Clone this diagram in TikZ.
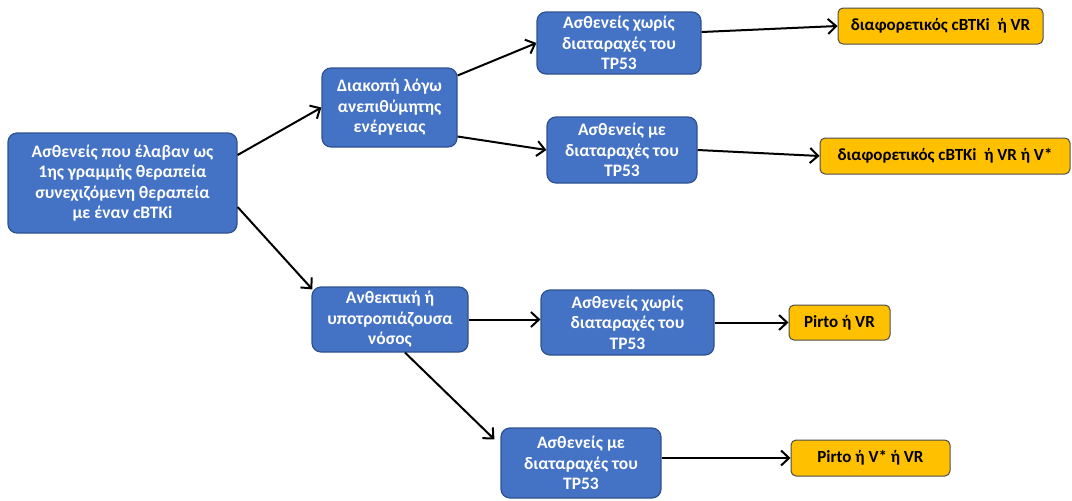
\documentclass[tikz,border=0pt]{standalone}
\usepackage{fontspec}
\setmainfont{Carlito}
\usetikzlibrary{arrows.meta}
\definecolor{boxblue}{HTML}{4472C4}
\definecolor{boxedge}{HTML}{2F528F}
\definecolor{resyellow}{HTML}{FFC000}
\tikzset{
 bluebox/.style={draw=boxedge,line width=1.2pt,fill=boxblue,rounded corners=9pt,
  text=white,font=\bfseries\fontsize{17.5}{20.5}\selectfont,align=center,inner sep=2pt},
 yellowbox/.style={draw=black!70,line width=1pt,fill=resyellow,rounded corners=5pt,
  font=\bfseries\fontsize{17}{19}\selectfont,inner sep=2pt},
 link/.style={->,line width=2pt}
}
\begin{document}
\begin{tikzpicture}[x=1pt,y=-1pt,>={Straight Barb[length=8pt,width=15pt]}]
 \useasboundingbox (0,0) rectangle (1072,501);
 % first line of treatment
 \node[bluebox,minimum width=229pt,minimum height=100pt] (root) at (122.5,183)
  {Ασθενείς που έλαβαν ως\\1ης γραμμής θεραπεία\\συνεχιζόμενη θεραπεία\\με έναν cBTKi};
 % upper branch
 \node[bluebox,minimum width=135pt,minimum height=79pt] (stop) at (389.5,107.5)
  {Διακοπή λόγω\\ανεπιθύμητης\\ενέργειας};
 \node[bluebox,minimum width=164pt,minimum height=62pt] (stopno) at (619,43)
  {Ασθενείς χωρίς\\διαταραχές του\\TP53};
 \node[bluebox,minimum width=150pt,minimum height=66pt] (stopyes) at (622,150)
  {Ασθενείς με\\διαταραχές του\\TP53};
 \node[yellowbox,minimum width=205pt,minimum height=36pt] (resA) at (940.5,26)
  {διαφορετικός cBTKi\ \ ή VR};
 \node[yellowbox,minimum width=250pt,minimum height=36pt] (resB) at (945,156)
  {διαφορετικός cBTKi\ \ ή VR ή V*};
 % lower branch
 \node[bluebox,minimum width=156pt,minimum height=65pt] (relapse) at (390,319.5)
  {Ανθεκτική ή\\υποτροπιάζουσα\\νόσος};
 \node[bluebox,minimum width=173pt,minimum height=65pt] (relno) at (627.5,322.5)
  {Ασθενείς χωρίς\\διαταραχές του\\TP53};
 \node[bluebox,minimum width=160pt,minimum height=70pt] (relyes) at (581,463)
  {Ασθενείς με\\διαταραχές του\\TP53};
 \node[yellowbox,minimum width=101pt,minimum height=35pt] (resC) at (839.5,322.5)
  {Pirto ή VR};
 \node[yellowbox,minimum width=159pt,minimum height=36pt] (resD) at (870.5,458)
  {Pirto ή V* ή VR};
 % connectors
 \draw[link] ([yshift=28pt]root.east) -- (stop.west);
 \draw[link] ([yshift=-24pt]root.east) -- ([xshift=1pt,yshift=-3pt]relapse.north west);
 \draw[link] ([yshift=32pt]stop.east) -- (stopno.west);
 \draw[link] ([yshift=-29pt]stop.east) -- (stopyes.west);
 \draw[link] ([yshift=11pt]stopno.east) -- (resA.west);
 \draw[link] (stopyes.east) -- (resB.west);
 \draw[link] (relapse.east) -- (relapse.east -| relno.west);
 \draw[link] ([xshift=15pt]relapse.south) -- ([xshift=-6pt,yshift=-12pt]relyes.north west);
 \draw[link] (relno.east) -- (resC.west);
 \draw[link] ([yshift=5pt]relyes.east) -- (resD.west);
\end{tikzpicture}
\end{document}
